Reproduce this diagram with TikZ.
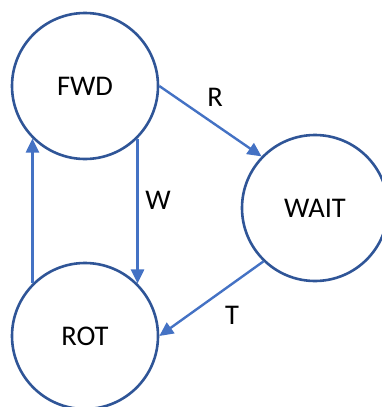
\documentclass[tikz,border=0pt]{standalone}
\usepackage{fontspec}
\setmainfont{Carlito}
\usetikzlibrary{arrows.meta}
\definecolor{ringblue}{HTML}{2F5597}
\definecolor{arrowblue}{HTML}{4472C4}
\begin{document}
\begin{tikzpicture}[x=1pt,y=-1pt,
  state/.style={circle, draw=ringblue, line width=2.6pt, minimum size=146pt, inner sep=0pt, font=\fontsize{28.5}{32}\selectfont},
  conn/.style={draw=arrowblue, line width=2.4pt, -{Triangle[length=14pt,width=13pt]}},
  lbl/.style={font=\fontsize{28.5}{32}\selectfont, inner sep=0pt}]
\useasboundingbox (0,0) rectangle (381,407);
\node[state] (FWD) at (85,86) {FWD};
\node[state] (WAIT) at (315,208) {WAIT};
\node[state] (ROT) at (85,336) {ROT};
\draw[conn] (FWD.0) -- (WAIT.136);
\draw[conn] (FWD.-45) -- (ROT.45);
\draw[conn] (WAIT.-134) -- (ROT.0);
\draw[conn] (ROT.135) -- (FWD.-135);
\node[lbl] (lR) at (215,97) {R};
\node[lbl] (lW) at (158,200) {W};
\node[lbl] (lT) at (232,315) {T};
\end{tikzpicture}
\end{document}
